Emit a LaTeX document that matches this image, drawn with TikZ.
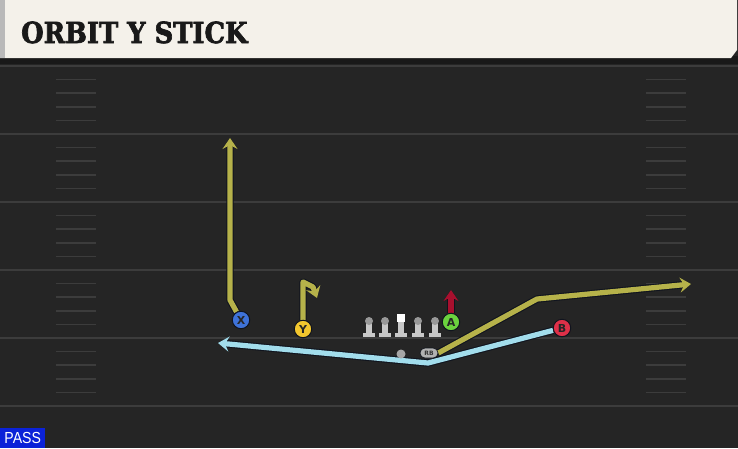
\documentclass[tikz,border=0pt]{standalone}
\usepackage{fontspec}
\setmainfont{DejaVu Sans}
\newfontfamily\titlefont{DejaVu Serif}[BoldFeatures={FakeBold=2.5}]
\newfontfamily\passfont{Liberation Sans}
\usetikzlibrary{arrows.meta,shapes.misc}
\pgfdeclarelayer{back}
\pgfdeclarelayer{routes}
\pgfsetlayers{back,routes,main}
\definecolor{fieldbg}{HTML}{252525}
\definecolor{headerbg}{HTML}{F4F1EA}
\definecolor{bandc}{HTML}{191919}
\definecolor{yardc}{HTML}{3C3C3C}
\definecolor{olivec}{HTML}{B6B24A}
\definecolor{skyc}{HTML}{A2DDEC}
\definecolor{crimc}{HTML}{A8102E}
\definecolor{xblue}{HTML}{3E72D8}
\definecolor{yyel}{HTML}{F2C62E}
\definecolor{agreen}{HTML}{6BD23E}
\definecolor{bred}{HTML}{DE3048}
\definecolor{passblue}{HTML}{0B22D8}
\definecolor{olgray}{HTML}{C8C8C8}
\definecolor{outl}{HTML}{10141E}
\tikzset{
  yard/.style={draw=yardc, line width=2pt},
  hashm/.style={draw=yardc, line width=1.6pt},
  player/.style={circle, draw=outl, line width=1pt, minimum size=17.5pt, inner sep=0pt,
    font=\bfseries\fontsize{11}{11}\selectfont, text=black!85},
  route/.style={line width=5.2pt, line join=round,
    preaction={draw=outl, line width=7.4pt, line join=round}},
  tipo/.style={-{Stealth[length=11pt, width=15pt, inset=4pt]}},
}
\begin{document}
\begin{tikzpicture}[x=1pt,y=-1pt]
\useasboundingbox (0,0) rectangle (738,448);
\begin{pgfonlayer}{back}
  \fill[fieldbg] (0,0) rectangle (738,448);
  \fill[bandc] (0,56) rectangle (738,64);
  \fill[headerbg] (0,0) -- (737,0) -- (737,50) -- (731,58) -- (0,58) -- cycle;
  \fill[gray!55] (0,0) rectangle (5,58);
  \foreach \y in {66,134,202,270,338,406} \draw[yard] (0,\y) -- (738,\y);
  \foreach \b in {66,134,202,270,338} {
    \foreach \k in {1,...,4} {
      \draw[hashm] (56,\b+\k*13.6) -- (96,\b+\k*13.6);
      \draw[hashm] (646,\b+\k*13.6) -- (686,\b+\k*13.6);
    }
  }
\end{pgfonlayer}

\node[anchor=base west, inner sep=0pt, font=\titlefont\bfseries\fontsize{29}{29}\selectfont, text=black!90] (title) at (21,43) {\scalebox{0.89}[1]{ORBIT Y STICK}};

\node[anchor=south west, fill=passblue, text=white, inner sep=0pt, minimum width=45pt, minimum height=20pt,
  font=\passfont\fontsize{16}{16}\selectfont] (pass) at (0,448) {\scalebox{0.88}[1]{PASS}};

% players
\node[player, fill=xblue] (X) at (241,320) {X};
\node[player, fill=yyel] (Y) at (303,329) {Y};
\node[player, fill=agreen] (A) at (451,322) {A};
\node[player, fill=bred] (B) at (562,328) {B};
\node[circle, fill=gray!70, minimum size=9pt, inner sep=0pt] (QB) at (401,354) {};
\node[rounded rectangle, fill=gray!60, draw=outl, line width=0.6pt, minimum width=18pt, minimum height=10pt, inner sep=0pt,
  font=\bfseries\fontsize{6}{6}\selectfont, text=black!80] (RB) at (429,353) {RB};

% linemen
\foreach \x/\n in {369/LT,385/LG,418/RG,435/RT} {
  \fill[olgray] (\x-6,332.5) rectangle (\x+6,337);
  \fill[olgray] (\x-2.8,322) rectangle (\x+2.8,333);
  \node[circle, fill=gray!80, minimum size=8pt, inner sep=0pt] (\n) at (\x,321) {};
}
\fill[olgray] (395,332.5) rectangle (407,337);
\fill[olgray] (398.2,321) rectangle (403.8,333);
\node[rectangle, fill=white, minimum size=8.5pt, inner sep=0pt] (C) at (401,318) {};

% route points
\coordinate (xb) at (230,300);
\coordinate (xe) at (230,138);
\coordinate (yb) at (303,282);
\coordinate (yc) at (313,287);
\coordinate (ye) at (317,298);
\coordinate (ae) at (451,290);
\coordinate (rbb) at (537,299);
\coordinate (rbe) at (691,284);
\coordinate (bb) at (428,363);
\coordinate (be) at (218,343);

\begin{pgfonlayer}{routes}
  \draw[route, olivec, tipo] (X) -- (xb) -- (xe);
  \draw[route, olivec, tipo] (Y) -- (yb) -- (yc) -- (ye);
  \draw[route, crimc, tipo] (A) -- (ae);
  \draw[route, olivec, tipo] (RB.east) -- (rbb) -- (rbe);
  \draw[route, skyc, tipo] (B) -- (bb) -- (be);
\end{pgfonlayer}
\end{tikzpicture}
\end{document}
